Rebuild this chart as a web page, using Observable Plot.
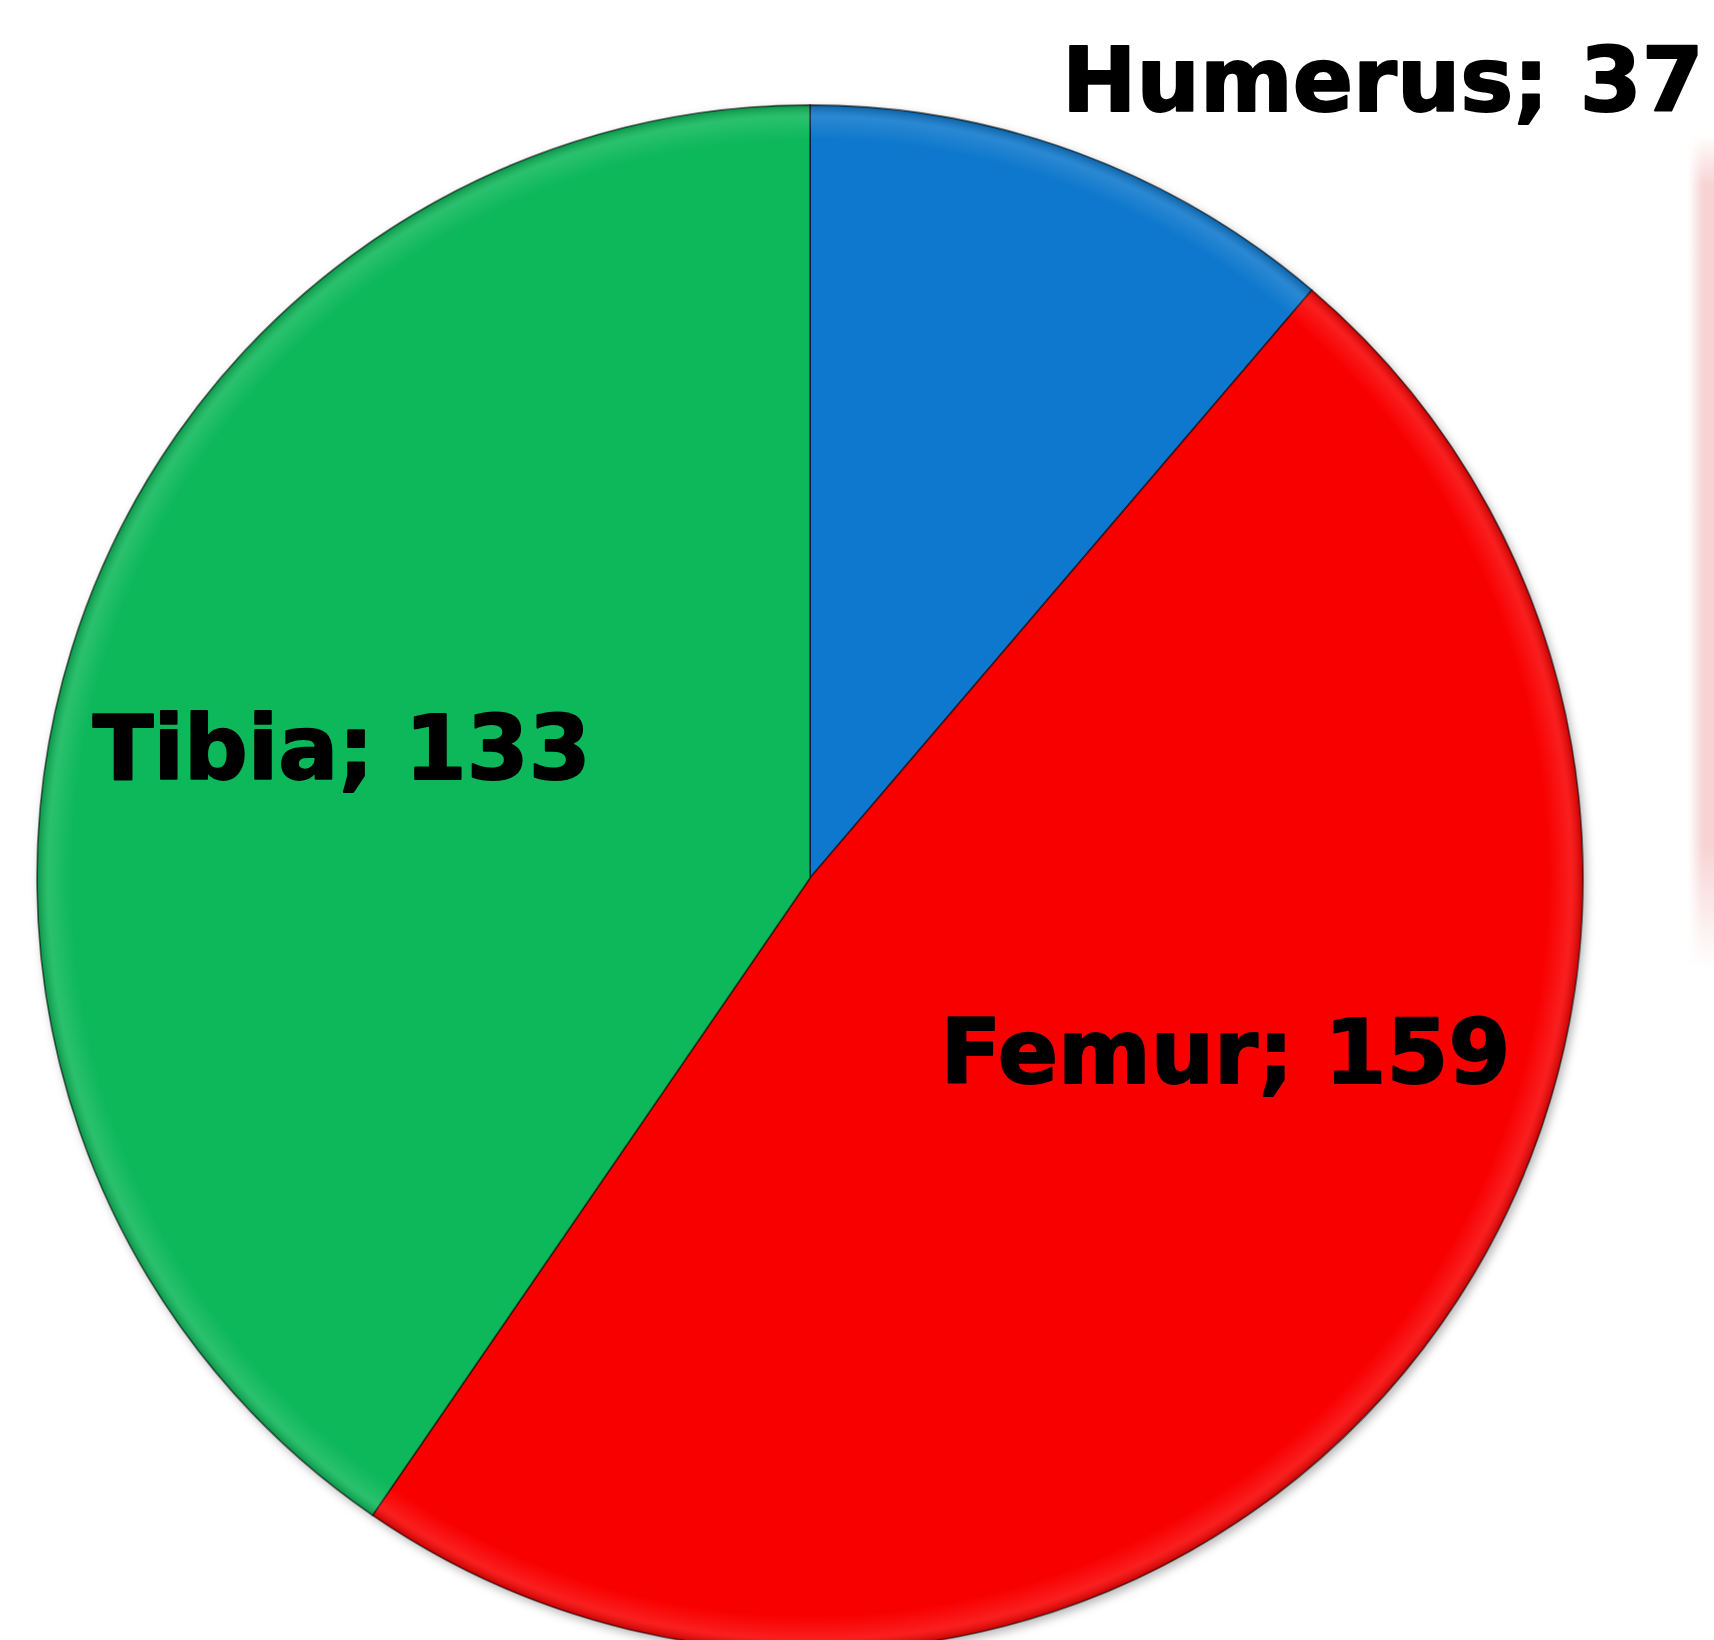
<!DOCTYPE html>
<html>
<head>
<meta charset="utf-8">
<script src="https://cdn.jsdelivr.net/npm/d3@7"></script>
<script src="https://cdn.jsdelivr.net/npm/@observablehq/plot@0.6"></script>
<style>
  html, body { margin: 0; padding: 0; background: #ffffff; }
  #wrap { position: relative; width: 1714px; height: 1640px; overflow: hidden; background: #fff; }
  #band { position: absolute; left: 1688px; top: 135px; width: 26px; height: 835px;
          background: linear-gradient(to right, rgba(246,200,200,0) 0%, rgba(246,205,205,0.85) 55%, rgba(246,205,205,0.9) 100%);
          -webkit-mask-image: linear-gradient(to bottom, rgba(0,0,0,0) 0%, #000 6%, #000 85%, rgba(0,0,0,0) 100%);
          mask-image: linear-gradient(to bottom, rgba(0,0,0,0) 0%, #000 6%, #000 85%, rgba(0,0,0,0) 100%); }
  svg text { font-family: "DejaVu Sans", sans-serif; }
</style>
</head>
<body>
<div id="wrap"><div id="band"></div></div>
<script>
// ---- data ----
const bones = ["Humerus", "Femur", "Tibia"];
const counts = [37, 159, 133];
const sliceColors = ["#0A78CD", "#F90303", "#0BB85A"];

// ---- layout (pixels) ----
const W = 1714, H = 1640;
const CX = 810, CY = 878, R = 773;

// label placement: angle (deg, clockwise from 12 o'clock) and radius as fraction of R
const labelPlace = {
  Humerus: {angle: 35.6, r: 1.272},
  Femur:   {angle: 112.5, r: 0.581},
  Tibia:   {angle: 285.7, r: 0.630}
};

const table = bones.map((b, i) => ({bone: b, count: counts[i]}));
const arcs = d3.pie().sort(null).value(d => d.count)(table);

const labels = table.map(d => {
  const p = labelPlace[d.bone];
  const a = p.angle * Math.PI / 180;
  return {text: `${d.bone}; ${d.count}`, x: p.r * Math.sin(a), y: p.r * Math.cos(a)};
});

// domains so that unit circle maps to centre (CX, CY) and radius R
const xDomain = [-CX / R, (W - CX) / R];
const yDomain = [-(H - CY) / R, CY / R];

function pieMark(index, scales) {
  const sx = scales.x, sy = scales.y;
  const cx = sx(0), cy = sy(0);
  const rad = sx(1) - sx(0);
  const ns = "http://www.w3.org/2000/svg";
  const g = document.createElementNS(ns, "g");
  g.innerHTML = `
    <defs>
      <filter id="shadow" x="-10%" y="-10%" width="120%" height="120%">
        <feDropShadow dx="3" dy="4" stdDeviation="5" flood-color="#000" flood-opacity="0.28"/>
      </filter>
      <radialGradient id="bevel" cx="0.5" cy="0.5" r="0.5">
        <stop offset="0.955" stop-color="#fff" stop-opacity="0"/>
        <stop offset="0.985" stop-color="#fff" stop-opacity="0.12"/>
        <stop offset="1" stop-color="#000" stop-opacity="0.2"/>
      </radialGradient>
    </defs>`;
  const root = d3.select(g);
  const arcGen = d3.arc().innerRadius(0).outerRadius(rad);
  const pg = root.append("g").attr("transform", `translate(${cx},${cy})`).attr("filter", "url(#shadow)");
  pg.selectAll("path.slice")
    .data(arcs)
    .join("path")
    .attr("class", "slice")
    .attr("d", arcGen)
    .attr("fill", d => scales.color(d.data.bone))
    .attr("stroke", "rgba(0,0,0,0.5)")
    .attr("stroke-width", 1.8)
    .attr("stroke-linejoin", "round");
  root.append("circle")
    .attr("cx", cx).attr("cy", cy).attr("r", rad)
    .attr("fill", "url(#bevel)")
    .attr("pointer-events", "none");
  return g;
}

const chart = Plot.plot({
  width: W,
  height: H,
  margin: 0,
  style: {background: "transparent", overflow: "visible"},
  x: {domain: xDomain, axis: null},
  y: {domain: yDomain, axis: null},
  color: {domain: bones, range: sliceColors},
  marks: [
    pieMark,
    Plot.text(labels, {
      x: "x", y: "y", text: "text",
      fontSize: 89, fontWeight: "bold",
      fontFamily: "DejaVu Sans",
      fill: "#000", stroke: "#000", strokeWidth: 2,
      textAnchor: "middle", dy: 4
    })
  ]
});
chart.style.position = "absolute";
chart.style.left = "0px";
chart.style.top = "0px";
document.getElementById("wrap").appendChild(chart);
</script>
</body>
</html>
